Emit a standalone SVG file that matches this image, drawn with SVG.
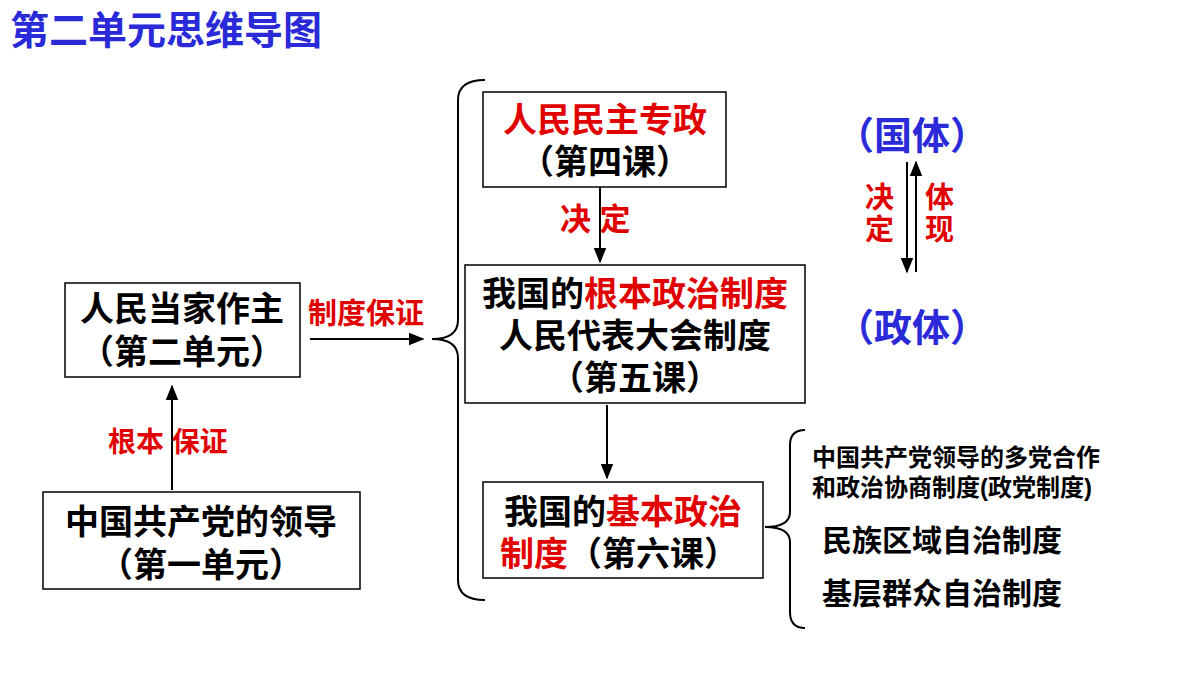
<svg xmlns="http://www.w3.org/2000/svg" width="1200" height="675" viewBox="0 0 1200 675">
<defs>
<marker id="ah" viewBox="0 0 10 10" refX="9" refY="5" markerWidth="8" markerHeight="8" orient="auto-start-reverse"><path d="M0,1 L10,5 L0,9 Z" fill="#000"/></marker>
<style>
text{font-family:"Liberation Sans","Noto Sans CJK SC",sans-serif;font-weight:bold}
.box{fill:#fff;stroke:#000;stroke-width:1.5}
.b{fill:#000;font-size:34px}
.r{fill:#e00000}
.bl{fill:#2a2ad8}
.ln{stroke:#000;stroke-width:2;fill:none}
</style>
</defs>
<rect width="1200" height="675" fill="#fff"/>
<text x="10" y="44" class="bl" font-size="39">第二单元思维导图</text>
<g id="n1"><rect class="box" x="65" y="283" width="235" height="94"/><text class="b" x="182" y="321" text-anchor="middle">人民当家作主</text><text class="b" x="182" y="364" text-anchor="middle">（第二单元）</text></g>
<g id="n2"><rect class="box" x="483" y="92" width="243" height="95"/><text class="b r" x="605" y="132" text-anchor="middle">人民民主专政</text><text class="b" x="605" y="174" text-anchor="middle">（第四课）</text></g>
<g id="n3"><rect class="box" x="465" y="265" width="340" height="138"/><text class="b" x="635" y="306" text-anchor="middle">我国的<tspan class="r">根本政治制度</tspan></text><text class="b" x="635" y="348" text-anchor="middle">人民代表大会制度</text><text class="b" x="635" y="390" text-anchor="middle">（第五课）</text></g>
<g id="n4"><rect class="box" x="483" y="482" width="280" height="96"/><text class="b" x="623" y="524" text-anchor="middle">我国的<tspan class="r">基本政治</tspan></text><text class="b" x="500" y="566"><tspan class="r">制度</tspan>（第六课）</text></g>
<g id="n5"><rect class="box" x="43" y="492" width="317" height="97"/><text class="b" x="201" y="534" text-anchor="middle">中国共产党的领导</text><text class="b" x="201" y="577" text-anchor="middle">（第一单元）</text></g>
<g id="n6"><text x="912" y="149" class="bl" font-size="38" text-anchor="middle">（国体）</text></g>
<g id="n7"><text x="912" y="341" class="bl" font-size="38" text-anchor="middle">（政体）</text></g>
<g id="n8">
<text x="812" y="466" font-size="24">中国共产党领导的多党合作</text>
<text x="812" y="496" font-size="24">和政治协商制度(政党制度)</text>
<text x="822" y="551" font-size="30">民族区域自治制度</text>
<text x="822" y="604" font-size="30">基层群众自治制度</text>
</g>
<g id="connectors">
<line class="ln" x1="310" y1="339" x2="423" y2="339" marker-end="url(#ah)"/>
<path class="ln" d="M485,80 Q458,80 458,100 L458,320 Q458,339 432,339 Q458,339 458,358 L458,580 Q458,600 485,600"/>
<line class="ln" x1="600" y1="187" x2="600" y2="262" marker-end="url(#ah)"/>
<line class="ln" x1="607" y1="405" x2="607" y2="478" marker-end="url(#ah)"/>
<path class="ln" d="M805,430 Q790,430 790,445 L790,512 Q790,527 765,527 Q790,527 790,542 L790,612 Q790,628 805,628"/>
<line class="ln" x1="172" y1="490" x2="172" y2="386" marker-end="url(#ah)"/>
<line class="ln" x1="907" y1="162" x2="907" y2="272" marker-end="url(#ah)"/>
<line class="ln" x1="916" y1="272" x2="916" y2="162" marker-end="url(#ah)"/>
<text x="308" y="324" class="r" font-size="29">制度保证</text>
<text x="560" y="230" class="r" font-size="31">决 定</text>
<text x="108" y="452" class="r" font-size="28">根本 保证</text>
<text x="865" y="208" class="r" font-size="29">决</text><text x="865" y="240" class="r" font-size="29">定</text>
<text x="925" y="208" class="r" font-size="29">体</text><text x="925" y="240" class="r" font-size="29">现</text>
</g>
</svg>
